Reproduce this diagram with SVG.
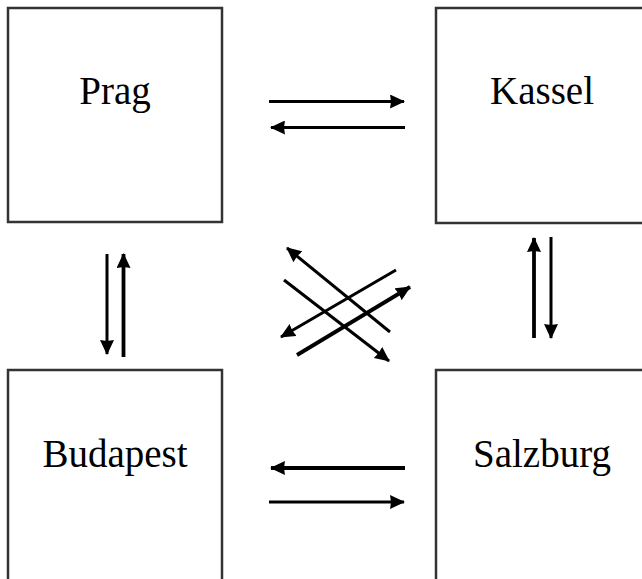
<svg xmlns="http://www.w3.org/2000/svg" width="642" height="579" viewBox="0 0 642 579">
<defs>
<style>
.box{fill:#fff;stroke:#333;stroke-width:2.5}
.lbl{font-family:"Liberation Serif","Times New Roman",serif;font-size:39px;fill:#000;text-anchor:middle}
.c{stroke:#000;stroke-width:3;fill:none;marker-end:url(#ah)}
.t{stroke-width:3.8}
</style>
<marker id="ah" markerWidth="15" markerHeight="14" refX="14" refY="7" orient="auto" markerUnits="userSpaceOnUse" viewBox="0 0 15 14">
<path d="M0,0 L15,7 L0,14 L1,7 Z" fill="#000"/>
</marker>
</defs>
<rect width="642" height="579" fill="#fff"/>
<g id="prag"><rect class="box" x="8" y="8" width="214" height="214"/><text class="lbl" x="115" y="104">Prag</text></g>
<g id="kassel"><rect class="box" x="436" y="8" width="220" height="215"/><text class="lbl" x="542" y="104">Kassel</text></g>
<g id="budapest"><rect class="box" x="8" y="370" width="214" height="230"/><text class="lbl" x="115" y="467">Budapest</text></g>
<g id="salzburg"><rect class="box" x="436" y="370" width="220" height="230"/><text class="lbl" x="542" y="467">Salzburg</text></g>
<g id="connectors">
<line class="c" x1="269" y1="101.5" x2="404" y2="101.5"/>
<line class="c" x1="405" y1="127.5" x2="271" y2="127.5"/>
<line class="c" x1="107" y1="254" x2="107" y2="354"/>
<line class="c t" x1="123.5" y1="357" x2="123.5" y2="254"/>
<line class="c t" x1="534" y1="338" x2="534" y2="238"/>
<line class="c" x1="551" y1="237" x2="551" y2="338"/>
<line class="c" x1="390" y1="332" x2="287" y2="248"/>
<line class="c" x1="284" y1="280" x2="389" y2="361"/>
<line class="c" x1="396" y1="270" x2="281" y2="337"/>
<line class="c t" x1="297" y1="355" x2="410" y2="287"/>
<line class="c t" x1="405" y1="468" x2="271" y2="468"/>
<line class="c" x1="269" y1="502" x2="404" y2="502"/>
</g>
</svg>
